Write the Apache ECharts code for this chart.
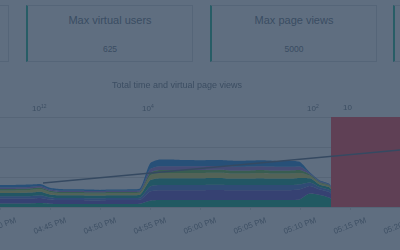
<!DOCTYPE html>
<html><head><meta charset="utf-8">
<script src="https://cdn.jsdelivr.net/npm/echarts@6/dist/echarts.min.js"></script>
<style>
html,body{margin:0;padding:0;width:400px;height:250px;overflow:hidden;background:#fff;font-family:"Liberation Sans",Arial,sans-serif;}
#chart{position:absolute;left:0;top:0;width:400px;height:250px;}
.card{position:absolute;top:5px;height:57px;width:167px;border:1px solid #e3e6e8;border-left:2px solid #5fcdb6;background:#fff;box-sizing:border-box;text-align:center;color:#96a0aa;z-index:2;}
.card .t{position:absolute;left:0;right:0;top:7px;font-size:11px;line-height:14px;}
.card .v{position:absolute;left:0;right:0;top:37px;font-size:8.5px;line-height:12px;}
#overlay{position:absolute;left:0;top:0;width:400px;height:250px;background:rgba(9,33,60,0.65);z-index:10;}
</style></head>
<body>
<div id="chart"></div>
<div class="card" style="left:-158px"></div>
<div class="card" style="left:26px"><div class="t">Max virtual users</div><div class="v">625</div></div>
<div class="card" style="left:210px"><div class="t">Max page views</div><div class="v">5000</div></div>
<div class="card" style="left:393px"></div>
<div id="overlay"></div>
<script>
// ---- data ----
const chartTitle = 'Total time and virtual page views';
const times = ['16:40','16:41','16:42','16:43','16:44','16:45','16:46','16:47','16:48','16:49',
  '16:50','16:51','16:52','16:53','16:54','16:55','16:56','16:57','16:58','16:59',
  '17:00','17:01','17:02','17:03','17:04','17:05','17:06','17:07','17:08','17:09',
  '17:10','17:11','17:12','17:13','17:14'];
const layer1 = [12,12,12,12,13,11,10,10,10,10,10,10,10,10,11,21,23,23,23,23,23,23,23,23,23,23,23,23,23,23,26,45,40,30,0];
const layer2 = [16,16,16,16,17,14,13,13,13,12,12,13,13,13,13,31,33,33,33,33,33,34,34,33,33,33,33,33,33,33,33,25,18,18,0];
const layer3 = [8,8,8,8,9,7,7,7,7,7,7,7,7,7,7,16,17,17,17,17,17,17,17,17,17,17,17,17,17,17,17,12,8,8,0];
const layer4 = [11,11,11,12,12,10,9,9,9,9,9,9,9,9,10,21,23,23,23,23,23,23,23,22,22,22,23,22,22,22,21,14,8,8,0];
const layer5 = [8,8,9,9,9,8,7,7,7,7,7,7,7,7,7,16,17,17,17,17,17,17,17,17,17,17,17,17,17,17,16,8,6,5,0];
const layer6 = [5,5,5,5,5,4,4,4,4,4,4,4,4,4,4,9,10,10,10,10,10,10,10,10,10,10,10,10,10,10,10,4,3,2,0];
const layer7 = [5,5,5,5,5,4,4,4,4,4,4,4,4,4,4,12,13,13,13,13,13,13,13,13,12,13,13,13,12,12,12,4,3,2,0];
const layer8 = [8,8,8,8,7,6,6,5,5,5,4,4,4,5,6,19,22,22,21,21,20,20,20,20,20,20,20,20,19,19,15,3,2,2,0];
const layers = [layer1,layer2,layer3,layer4,layer5,layer6,layer7,layer8];
const layerNames = ['Page 1','Page 2','Page 3','Page 4','Page 5','Page 6','Page 7','Page 8'];
const blockTimes = ['17:13:06','17:21:00'];
const blockValues = [300,300];
const viewTimes = ['16:44:18','17:20:00'];
const viewValues = [80,190];
const axisMin = '16:40';
const axisMax = '17:20';
const topLabels = ['10{s|12}','10{s|4}','10{s|2}','10'];

// ---- helpers ----
function ts(s){const p=s.split(':').map(Number);return new Date(2024,0,1,p[0],p[1],p[2]||0).getTime();}
function mins(s){const p=s.split(':').map(Number);return p[0]*60+p[1]+(p[2]||0)/60;}
function fmt(v){let h=Math.floor(v/60);const m=Math.round(v-h*60);const ap=h>=12?'PM':'AM';h=h%12;if(h===0)h=12;
  return (h<10?'0':'')+h+':'+(m<10?'0':'')+m+' '+ap;}

const layerColors = ['#4fc4a8','#8a7fd8','#7a9ae0','#52b9b0','#dde08a','#8fcf7a','#b59ae0','#5ea8e8'];
const grid = '#e6e6e6';
const series = layers.map((arr,i)=>({
  name: layerNames[i], type:'line', stack:'total', smooth:0.2, showSymbol:false, xAxisIndex:0,
  lineStyle:{width:0}, areaStyle:{color:layerColors[i],opacity:1}, itemStyle:{color:layerColors[i]},
  data: arr.map((v,j)=>[ts(times[j]),v])
}));
series.push({name:'Total time', type:'line', showSymbol:false, lineStyle:{width:0}, xAxisIndex:0,
  areaStyle:{color:'#ff7b85',opacity:1}, itemStyle:{color:'#ff7b85'},
  data: blockValues.map((v,j)=>[ts(blockTimes[j]),v])});
series.push({name:'Virtual page views', type:'line', showSymbol:false, xAxisIndex:0,
  lineStyle:{width:1.5,color:'#8795a5'}, itemStyle:{color:'#8795a5'},
  data: viewValues.map((v,j)=>[ts(viewTimes[j]),v])});

const topPos = [32,142,307,343];
const graphic = topLabels.map((t,i)=>({type:'text', left:topPos[i], top:104,
  style:{text:t, fill:'#9aa2aa', font:'8px "Liberation Sans", Arial, sans-serif',
    rich:{s:{fontSize:5, verticalAlign:'top', fill:'#9aa2aa', padding:[0,0,4,0]}}}}));

const chart = echarts.init(document.getElementById('chart'));
chart.setOption({
  animation:false,
  backgroundColor:'#fff',
  title:{text:chartTitle, left:107, top:76, textStyle:{fontSize:9, fontWeight:'normal', color:'#9aa2aa', fontFamily:'Liberation Sans'}},
  grid:{left:0, right:0, top:117, bottom:43, containLabel:false, outerBoundsMode:'none'},
  graphic: graphic,
  xAxis:[
    {type:'time', min:ts(axisMin), max:ts(axisMax), show:false, splitLine:{show:false}},
    {type:'value', position:'bottom', min:mins(axisMin), max:mins(axisMax), interval:5,
      splitLine:{show:false},
      axisLine:{lineStyle:{color:grid}},
      axisTick:{show:true, length:3, lineStyle:{color:grid}},
      axisLabel:{formatter:fmt, rotate:20, align:'center', verticalAlign:'middle', margin:19, fontSize:8,
        color:'#a0a8b0', fontFamily:'Liberation Sans', showMinLabel:true, showMaxLabel:true, hideOverlap:false}}
  ],
  yAxis:{type:'value', min:0, max:300, interval:100, axisLabel:{show:false}, axisLine:{show:false}, axisTick:{show:false},
    splitLine:{lineStyle:{color:grid}}},
  series: series
});
</script>
</body></html>
